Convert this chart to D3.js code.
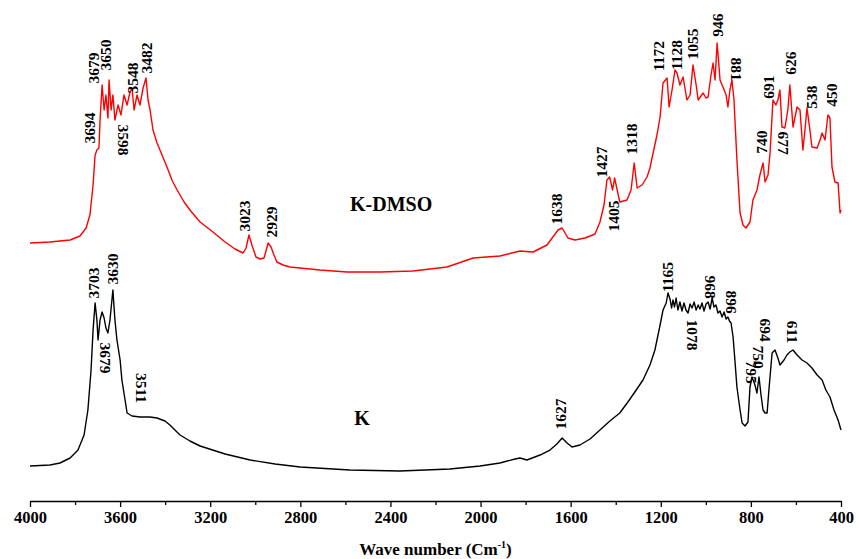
<!DOCTYPE html>
<html>
<head>
<meta charset="utf-8">
<script src="https://cdn.jsdelivr.net/npm/d3@7/dist/d3.min.js"></script>
<style>
  html, body { margin: 0; padding: 0; background: #fff; }
  svg { display: block; }
  text { font-family: "Liberation Serif", "Times New Roman", serif; font-weight: bold; }
</style>
</head>
<body>
<svg id="chart" width="859" height="559"></svg>
<script>
// ---------- DATA (wavenumber cm-1, relative intensity) ----------
const kdmsoWave = [4000,3911,3822,3778,3751,3734,3720,3711,3703,3694,3689,3680,3671,3663,3654,3649,3640,3632,3623,3609,3596,3583,3569,3556,3547,3538,3525,3512,3498,3485,3476,3467,3454,3436,3414,3392,3370,3347,3316,3290,3245,3188,3134,3090,3054,3041,3028,3015,2997,2979,2961,2943,2930,2917,2904,2877,2846,2713,2593,2446,2300,2149,2033,1914,1825,1767,1705,1656,1638,1612,1581,1536,1492,1470,1452,1439,1427,1414,1405,1382,1350,1332,1318,1305,1283,1261,1248,1234,1217,1203,1190,1172,1163,1150,1137,1128,1115,1101,1084,1070,1057,1043,1034,1012,999,990,977,968,959,950,942,937,924,910,902,893,884,875,862,848,835,822,804,791,773,760,746,737,724,715,702,689,680,671,662,649,636,627,613,595,582,569,560,551,538,529,506,493,484,471,458,449,440,427,413,404,400];
const kdmsoValue = [51.4,51.6,52.0,52.8,54.4,57.0,63.0,69.0,70.0,70.4,76.0,83.0,78.0,81.0,76.4,84.0,78.0,81.0,76.0,79.0,77.0,81.0,79.0,81.6,82.4,78.0,81.0,79.0,82.4,84.4,80.0,78.0,74.0,71.4,69.0,66.6,64.0,62.0,59.6,58.0,55.6,53.6,51.6,50.2,49.4,50.4,53.0,51.0,48.6,48.2,48.4,51.4,50.6,49.0,47.6,47.0,46.6,46.0,45.6,45.6,45.8,46.6,48.4,48.8,49.8,49.6,51.0,54.0,54.4,52.4,52.0,52.4,53.2,55.6,59.0,64.0,64.6,62.0,64.4,59.6,60.0,62.0,67.4,62.4,63.0,64.6,66.4,69.4,73.0,76.6,83.4,84.4,78.6,82.0,86.0,85.4,83.0,84.6,80.0,81.0,87.0,83.0,80.0,81.4,80.4,80.6,85.0,87.4,84.0,91.4,87.0,84.0,82.6,81.0,78.6,82.0,84.0,80.0,68.0,57.4,55.0,54.4,55.6,60.0,62.0,65.0,67.4,63.6,65.0,69.4,80.0,79.0,80.0,82.0,74.6,74.4,78.0,83.0,74.6,78.6,78.0,70.0,74.0,78.4,74.0,70.6,70.4,72.0,73.4,72.0,77.0,76.4,66.6,63.6,63.4,57.4,58.0];

const kWave = [4000,3911,3867,3822,3787,3760,3743,3729,3720,3711,3703,3698,3689,3680,3671,3663,3654,3645,3632,3623,3614,3600,3592,3578,3569,3547,3512,3467,3436,3401,3379,3334,3290,3245,3134,3023,2912,2801,2580,2358,2136,2002,1914,1847,1825,1794,1736,1692,1661,1638,1616,1594,1559,1514,1470,1426,1382,1346,1315,1279,1248,1226,1203,1190,1176,1168,1159,1152,1146,1139,1132,1124,1115,1106,1097,1088,1079,1070,1061,1052,1043,1034,1026,1017,1008,999,990,981,972,964,955,946,937,928,919,910,902,895,888,879,871,862,848,839,826,813,804,795,782,773,764,755,746,737,728,720,706,693,680,671,653,640,627,613,595,573,551,529,506,484,467,449,431,413,400];
const kValue = [6.8,7.0,7.4,8.4,10.0,13.0,18.0,26.0,34.0,39.4,36.0,32.0,36.0,37.6,36.4,34.4,33.4,36.0,42.0,36.0,32.0,28.0,24.0,20.0,17.4,16.8,16.6,16.6,16.4,15.8,15.0,13.0,11.8,10.8,9.2,8.0,7.2,6.6,6.0,5.8,6.2,6.8,7.4,8.2,8.4,8.0,9.0,10.0,11.2,12.4,11.4,10.6,11.0,12.2,14.0,15.8,17.4,19.6,21.6,24.0,27.0,30.0,35.0,38.0,39.4,41.4,40.2,38.4,40.0,38.6,40.4,38.0,39.6,37.8,39.4,38.0,37.4,39.2,38.4,39.6,38.0,39.0,38.2,39.4,37.8,39.2,39.6,38.2,40.4,38.6,39.0,37.4,37.8,36.6,37.6,36.2,36.6,35.8,35.4,32.6,28.0,22.6,18.0,15.4,14.8,15.6,22.6,24.6,23.0,21.4,24.6,21.0,18.0,17.4,17.4,22.0,29.4,30.0,28.4,27.0,28.0,29.0,29.6,30.0,29.0,28.0,27.4,26.4,25.0,24.0,22.0,20.6,18.0,16.0,14.0];

// Peak annotations: text, label-centre wavenumber, label-centre value, rotation
const kdmsoLabels = ["3694","3679","3650","3598","3548","3482","3023","2929","1638","1427","1405","1318","1172","1128","1055","946","881","740","691","677","626","538","450"];
const kdmsoLabelWave = [3734,3716,3663,3583,3547,3485,3046,2930,1661,1461,1408,1328,1208,1132,1057,950,866,755,720,657,622,533,444];
const kdmsoLabelValue = [74.4,86.4,89.0,72.0,84.4,88.4,56.8,55.6,58.2,67.6,56.8,72.2,88.8,89.0,91.2,95.0,86.2,71.6,82.6,71.4,87.4,80.6,81.0];
const kdmsoLabelRot = [-90,-90,-90,90,-90,-90,-90,-90,-90,-90,-90,-90,-90,-90,-90,-90,90,-90,-90,90,-90,-90,-90];

const kLabels = ["3703","3630","3679","3511","1627","1165","1078","968","896","795","750","694","611"];
const kLabelWave = [3720,3636,3663,3507,1643,1168,1061,981,888,799,764,733,617];
const kLabelValue = [43.4,46.2,28.4,22.4,17.2,44.6,33.0,42.6,39.6,25.6,28.6,34.0,33.6];
const kLabelRot = [-90,-90,90,90,-90,-90,90,90,90,90,90,90,90];

const seriesNames = ["K-DMSO", "K"];
const seriesNameWave = [2397, 2526];
const seriesNameValue = [59.2, 16.4];

const majorTicks = [4000,3600,3200,2800,2400,2000,1600,1200,800,400];
const minorTicks = [3800,3400,3000,2600,2200,1800,1400,1000,600];
const xTitle = "Wave number (Cm";
const xTitleSup = "-1";

// ---------- CHART ----------
const svg = d3.select("#chart");
const x = d3.scaleLinear().domain([4000, 400]).range([30, 841]);
const y = d3.scaleLinear().domain([0, 100]).range([500, 0]);
const axisY = 501;

const line = d3.line().x(d => x(d[0])).y(d => y(d[1]));

const red = kdmsoWave.map((w, i) => [w, kdmsoValue[i]]);
const blk = kWave.map((w, i) => [w, kValue[i]]);

svg.append("path").datum(red).attr("d", line)
  .attr("fill", "none").attr("stroke", "#ff0000").attr("stroke-width", 1.4).attr("stroke-linejoin", "round");
svg.append("path").datum(blk).attr("d", line)
  .attr("fill", "none").attr("stroke", "#000").attr("stroke-width", 1.4).attr("stroke-linejoin", "round");

// axis
const gx = svg.append("g").attr("transform", `translate(0,${axisY})`)
  .call(d3.axisBottom(x).tickValues(majorTicks).tickFormat(d3.format("d")).tickSize(6).tickSizeOuter(0).tickPadding(4));
gx.select(".domain").attr("stroke", "#000").attr("stroke-width", 1.5);
gx.selectAll(".tick line").attr("stroke", "#000").attr("stroke-width", 1.3);
gx.selectAll(".tick text").attr("font-family", "Liberation Serif, serif").attr("font-weight", "bold")
  .attr("font-size", 16.5).attr("fill", "#000");
const gm = svg.append("g").attr("transform", `translate(0,${axisY})`)
  .call(d3.axisBottom(x).tickValues(minorTicks).tickFormat("").tickSize(4).tickSizeOuter(0));
gm.select(".domain").remove();
gm.selectAll(".tick line").attr("stroke", "#000").attr("stroke-width", 1.3);

// axis title
const t = svg.append("text").attr("x", x(2200)).attr("y", 555).attr("text-anchor", "middle")
  .attr("font-size", 17).attr("fill", "#000");
t.append("tspan").text(xTitle);
t.append("tspan").attr("font-size", 10).attr("dy", -7).text(xTitleSup);
t.append("tspan").attr("dy", 7).text(")");

// peak labels
function drawLabels(texts, waves, vals, rots) {
  texts.forEach((s, i) => {
    const cx = x(waves[i]), cy = y(vals[i]);
    svg.append("text")
      .attr("transform", `translate(${cx},${cy}) rotate(${rots[i]})`)
      .attr("text-anchor", "middle").attr("dominant-baseline", "central")
      .attr("font-size", 15.5).attr("fill", "#000").text(s);
  });
}
drawLabels(kdmsoLabels, kdmsoLabelWave, kdmsoLabelValue, kdmsoLabelRot);
drawLabels(kLabels, kLabelWave, kLabelValue, kLabelRot);

// series names
seriesNames.forEach((s, i) => {
  svg.append("text").attr("x", x(seriesNameWave[i])).attr("y", y(seriesNameValue[i]))
    .attr("text-anchor", "middle").attr("dominant-baseline", "central")
    .attr("font-size", 20).attr("fill", "#000").text(s);
});
</script>
</body>
</html>
